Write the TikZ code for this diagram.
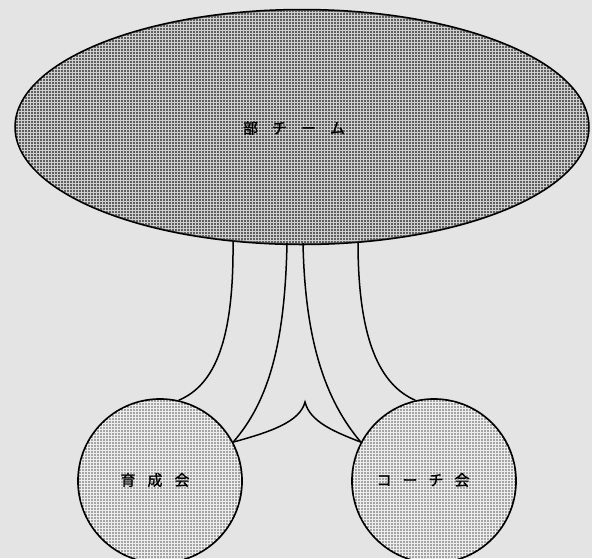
\documentclass[tikz,border=0pt]{standalone}
\usepackage{fontspec}
\newfontfamily\jp{Noto Sans CJK JP}[FakeBold=1.5]
\usetikzlibrary{shapes.geometric,patterns}
\definecolor{bg}{HTML}{E4E4E4}
\definecolor{dark}{HTML}{5E5E5E}
\definecolor{light}{HTML}{A4A4A4}
\newcommand{\gapj}{\hspace{14pt}}
\begin{document}
\begin{tikzpicture}[x=1pt,y=-1pt,
  lbl/.style={font=\jp\fontsize{15}{15}\selectfont, text=black},
  team/.style={ellipse, draw=black, line width=1.5pt, fill=dark, minimum width=574pt, minimum height=235pt, inner sep=0pt},
  club/.style={circle, draw=black, line width=1.7pt, fill=light, minimum size=164pt, inner sep=0pt},
  conn/.style={draw=black, line width=1.5pt}]
\clip (0,0) rectangle (592,558);
\fill[bg] (0,0) rectangle (592,558);
% nodes
\node[team] (team) at (302,127) {};
\fill[pattern=grid, pattern color=white!70!dark] (team.center) ellipse [x radius=286pt, y radius=116pt];
\node[club] (ik) at (160,481) {};
\fill[pattern=grid, pattern color=white!80!light] (ik.center) circle [radius=81pt];
\node[club] (co) at (434,481) {};
\fill[pattern=grid, pattern color=white!80!light] (co.center) circle [radius=81pt];
\node[lbl] (tlabel) at (294,128) {部\gapj チ\gapj ー\gapj ム};
\node[lbl] (iklabel) at (155,480) {育\hspace{12pt}成\hspace{12pt}会};
\node[lbl] (colabel) at (423,480) {コ\hspace{11pt}ー\hspace{11pt}チ\hspace{11pt}会};
% connector anchors on the team ellipse
\coordinate (t1) at (233,241);
\coordinate (t2) at (287,243);
\coordinate (t3) at (303,243);
\coordinate (t4) at (358,242);
\coordinate (cusp) at (305,402);
% connectors
\draw[conn] (t1) .. controls (234,340) and (215,385) .. (ik.77);
\draw[conn] (t2) .. controls (285,340) and (270,400) .. (ik.28);
\draw[conn] (t3) .. controls (305,340) and (325,400) .. (co.152);
\draw[conn] (t4) .. controls (358,340) and (380,385) .. (co.103);
\draw[conn] (ik.28) .. controls (270,432) and (300,422) .. (cusp)
  .. controls (310,422) and (335,432) .. (co.152);
\end{tikzpicture}
\end{document}
